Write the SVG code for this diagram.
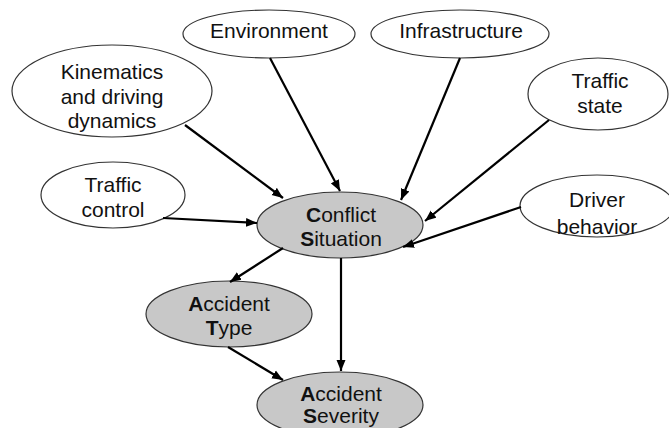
<svg xmlns="http://www.w3.org/2000/svg" width="669" height="428" viewBox="0 0 669 428">
<defs>
<style>
.n ellipse{fill:#ffffff;stroke:#333333;stroke-width:1.2}
.g ellipse{fill:#c8c8c8;stroke:#333333;stroke-width:1.2}
text{font-family:"Liberation Sans",Arial,sans-serif;font-size:21px;fill:#111111;text-anchor:middle}
.b{font-weight:bold}
#edges line{stroke:#000000;stroke-width:2.2;marker-end:url(#ah)}
</style>
<marker id="ah" markerUnits="userSpaceOnUse" markerWidth="12" markerHeight="10" refX="11" refY="5" orient="auto">
<path d="M0,0.5 L11,5 L0,9.5 Z" fill="#000000"/>
</marker>
</defs>
<g id="environment" class="n"><ellipse cx="269" cy="34" rx="86" ry="24"/><text x="269" y="38">Environment</text></g>
<g id="infrastructure" class="n"><ellipse cx="460" cy="34" rx="89" ry="24"/><text x="461" y="38">Infrastructure</text></g>
<g id="kinematics" class="n"><ellipse cx="112" cy="91" rx="100" ry="46"/><text x="112" y="79">Kinematics</text><text x="112" y="103.5">and driving</text><text x="112" y="128">dynamics</text></g>
<g id="traffic-state" class="n"><ellipse cx="598" cy="94" rx="70" ry="36"/><text x="600" y="88">Traffic</text><text x="600" y="113">state</text></g>
<g id="traffic-control" class="n"><ellipse cx="113" cy="195" rx="72" ry="33"/><text x="113" y="192">Traffic</text><text x="113" y="217">control</text></g>
<g id="driver-behavior" class="n"><ellipse cx="597" cy="206" rx="77" ry="31"/><text x="597" y="207">Driver</text><text x="597" y="234">behavior</text></g>
<g id="conflict-situation" class="g"><ellipse cx="340" cy="225" rx="83" ry="33"/><text x="341" y="222"><tspan class="b">C</tspan>onflict</text><text x="341" y="246"><tspan class="b">S</tspan>ituation</text></g>
<g id="accident-type" class="g"><ellipse cx="229" cy="314" rx="83" ry="33"/><text x="229" y="311"><tspan class="b">A</tspan>ccident</text><text x="229" y="335"><tspan class="b">T</tspan>ype</text></g>
<g id="accident-severity" class="g"><ellipse cx="340" cy="405" rx="83" ry="33"/><text x="341" y="401"><tspan class="b">A</tspan>ccident</text><text x="341" y="423"><tspan class="b">S</tspan>everity</text></g>
<g id="edges">
<line x1="185" y1="125" x2="283" y2="198"/>
<line x1="270" y1="58" x2="340" y2="191"/>
<line x1="460" y1="58" x2="401" y2="200"/>
<line x1="549" y1="120" x2="425" y2="221"/>
<line x1="521" y1="207" x2="403" y2="247"/>
<line x1="163" y1="218" x2="257" y2="223"/>
<line x1="283" y1="248" x2="230" y2="282"/>
<line x1="341" y1="258" x2="341" y2="371"/>
<line x1="228" y1="347" x2="283" y2="380"/>
</g>
</svg>
